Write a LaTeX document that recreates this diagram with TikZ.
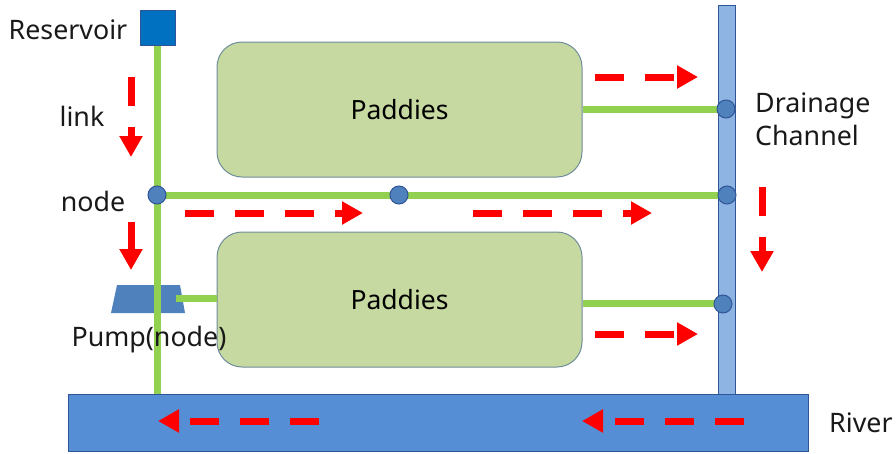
\documentclass[tikz,border=0pt]{standalone}
\usepackage{fontspec}
\setmainfont{Noto Sans}
\usetikzlibrary{arrows.meta}
\definecolor{linkgreen}{HTML}{92D050}
\definecolor{nodeblue}{HTML}{4F81BD}
\definecolor{nodeedge}{HTML}{2F5597}
\definecolor{paddyfill}{HTML}{C6D9A0}
\definecolor{paddyedge}{HTML}{6F8C9A}
\definecolor{channelfill}{HTML}{8DB4E2}
\definecolor{riverfill}{HTML}{558ED5}
\definecolor{resfill}{HTML}{0070C0}
\definecolor{flowred}{HTML}{FF0000}
\tikzset{
  link/.style={line width=7pt,draw=linkgreen},
  junction/.style={circle,draw=nodeedge,line width=1pt,fill=nodeblue,minimum size=18pt,inner sep=0pt},
  paddy/.style={rectangle,rounded corners=25pt,draw=paddyedge,line width=1pt,fill=paddyfill,minimum width=365pt,minimum height=135pt,inner sep=0pt,font=\fontsize{26.5}{30}\selectfont},
  water/.style={rectangle,draw=nodeedge,line width=0.8pt,inner sep=0pt},
  label/.style={inner sep=0pt,font=\fontsize{26.8}{33}\selectfont,text=black!90},
  flow/.style={draw=flowred,line width=7pt,dash pattern=on 29pt off 21pt,
    -{Triangle[length=21pt,width=22pt,fill=flowred]}},
}
\begin{document}
\begin{tikzpicture}[x=1pt,y=-1pt]
\useasboundingbox (0,0) rectangle (896,453);
% water bodies
\node[water,fill=channelfill,minimum width=17pt,minimum height=389pt] (channel) at (726.5,199.5) {};
\node[water,fill=riverfill,minimum width=740pt,minimum height=57pt] (river) at (438,422.5) {};
% pump
\fill[nodeblue] (117,285) -- (180,285) -- (185,313) -- (111,313) -- cycle;
% paddies
\node[paddy] (paddy1) at (399.5,109.5) {\raisebox{-2pt}{Paddies}};
\node[paddy] (paddy2) at (399.5,299.5) {\raisebox{-2pt}{Paddies}};
% reservoir
\node[rectangle,draw=nodeedge,line width=1pt,fill=resfill,minimum size=35pt,inner sep=0pt] (reservoir) at (157.5,27.5) {};
% junction positions
\coordinate (jA) at (157,195);
\coordinate (jB) at (399,195);
\coordinate (jC) at (727,195);
\coordinate (jD) at (726,109);
\coordinate (jE) at (723,304);
\coordinate (pumpout) at (176,298);
% links
\draw[link] (reservoir.south) -- (reservoir.south |- river.north);
\draw[link] (jA) -- (jC);
\draw[link] (paddy1.east |- jD) -- (jD);
\draw[link] (paddy2.east |- 0,303) -- (jE |- 0,303);
\draw[link] (pumpout) -- (pumpout -| paddy2.west);
% junctions
\node[junction] (nA) at (jA) {};
\node[junction] (nB) at (jB) {};
\node[junction] (nC) at (jC) {};
\node[junction] (nD) at (jD) {};
\node[junction] (nE) at (jE) {};
% flow arrows
\coordinate (f1a) at (131,77);  \coordinate (f1b) at (131,157);
\coordinate (f2a) at (131,222); \coordinate (f2b) at (131,270);
\coordinate (f3a) at (185,213); \coordinate (f3b) at (363,213);
\coordinate (f4a) at (473,213); \coordinate (f4b) at (652,213);
\coordinate (f5a) at (595,77);  \coordinate (f5b) at (698,77);
\coordinate (f6a) at (595,334); \coordinate (f6b) at (698,334);
\coordinate (f7a) at (762,187); \coordinate (f7b) at (762,272);
\coordinate (f8a) at (319,421); \coordinate (f8b) at (158,421);
\coordinate (f9a) at (744,421); \coordinate (f9b) at (582,421);
\foreach \i in {1,...,9} {\draw[flow] (f\i a) -- (f\i b);}
% labels
\node[label] (lres) at (68,30) {Reservoir};
\node[label] (llink) at (82,116) {link};
\node[label] (lnode) at (93,201) {node};
\node[label] (lpump) at (149,340) {Pump(node)};
\node[label,align=left,anchor=west] (ldrain) at (755,119) {Drainage\\Channel};
\node[label,anchor=west] (lriver) at (829,423) {River};
\end{tikzpicture}
\end{document}
